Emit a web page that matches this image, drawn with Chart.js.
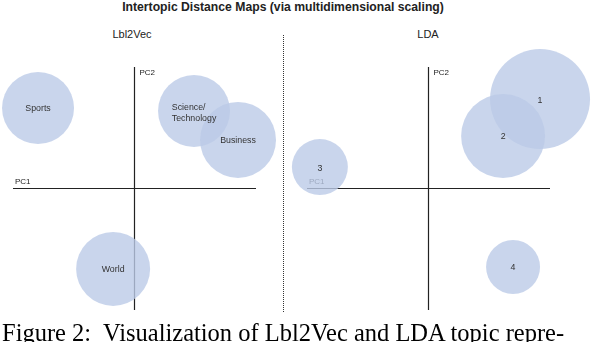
<!DOCTYPE html>
<html>
<head>
<meta charset="utf-8">
<script src="https://cdn.jsdelivr.net/npm/chart.js@4.4.0/dist/chart.umd.min.js"></script>
<style>
  html, body { margin: 0; padding: 0; background: #fff; }
  #wrap { position: relative; width: 594px; height: 342px; overflow: hidden; font-family: "Liberation Sans", Arial, sans-serif; }
  canvas { position: absolute; top: 0; }
  .lbl { position: absolute; transform: translateX(-50%); white-space: nowrap; color: #222; }
  #title { left: 283px; top: 0px; font-size: 12.2px; font-weight: bold; }
  #sub1 { left: 132px; top: 28px; font-size: 11px; }
  #sub2 { left: 428px; top: 28px; font-size: 11px; }
  #divider { position: absolute; left: 283px; top: 35px; height: 277px; border-left: 1px dotted #333; }
  #caption { position: absolute; left: 2px; top: 319px; font-family: "Liberation Serif", "Times New Roman", serif; font-size: 24.5px; white-space: nowrap; color: #000; }
</style>
</head>
<body>
<div id="wrap">
  <div id="title" class="lbl">Intertopic Distance Maps (via multidimensional scaling)</div>
  <div id="sub1" class="lbl">Lbl2Vec</div>
  <div id="sub2" class="lbl">LDA</div>
  <div id="divider"></div>
  <canvas id="left" width="283" height="342" style="left:0"></canvas>
  <canvas id="right" width="311" height="342" style="left:283px"></canvas>
  <div id="caption">Figure 2:&nbsp; Visualization of Lbl2Vec and LDA topic repre-</div>
</div>
<script>
// Lbl2Vec topics (PC1, PC2, bubble size)
const lblTopics = ["Sports", "Science/\nTechnology", "Business", "World"];
const lblPC1 = [-3.97, 2.45, 4.26, -0.88];
const lblPC2 = [3.31, 3.19, 2.0, -3.31];
const lblSize = [36, 36, 38, 37];

// LDA topics
const ldaTopics = ["1", "2", "3", "4"];
const ldaPC1 = [4.59, 3.07, -4.47, 3.48];
const ldaPC2 = [3.68, 2.16, 0.88, -3.23];
const ldaSize = [50, 42, 28, 27];

const bubbleColor = "rgba(187, 203, 231, 0.8)";

const mapPlugin = {
    id: "mapAxes",
    beforeDatasetsDraw(chart) {
        const { ctx, chartArea, scales } = chart;
        const x0 = scales.x.getPixelForValue(0);
        const y0 = scales.y.getPixelForValue(0);
        ctx.save();
        ctx.strokeStyle = "#222";
        ctx.lineWidth = 1.2;
        ctx.beginPath();
        ctx.moveTo(chartArea.left, y0);
        ctx.lineTo(chartArea.right, y0);
        ctx.moveTo(x0, chartArea.top);
        ctx.lineTo(x0, chartArea.bottom);
        ctx.stroke();
        ctx.fillStyle = "#222";
        ctx.font = "8px 'Liberation Sans', Arial, sans-serif";
        ctx.textBaseline = "middle";
        ctx.textAlign = "left";
        ctx.fillText("PC1", chartArea.left + 2, y0 - 7);
        ctx.fillText("PC2", x0 + 5, chartArea.top + 6);
        ctx.restore();
    },
    afterDatasetsDraw(chart) {
        const { ctx, scales } = chart;
        const labels = chart.data.labels;
        const pts = chart.data.datasets[0].data;
        ctx.save();
        ctx.fillStyle = "#333";
        ctx.font = "8.8px 'Liberation Sans', Arial, sans-serif";
        ctx.textBaseline = "middle";
        pts.forEach((p, i) => {
            const x = scales.x.getPixelForValue(p.x);
            const y = scales.y.getPixelForValue(p.y);
            const lines = labels[i].split("\n");
            if (lines.length > 1) {
                const w = Math.max(...lines.map(l => ctx.measureText(l).width));
                ctx.textAlign = "left";
                lines.forEach((l, j) => ctx.fillText(l, x - w / 2, y + 2 + (j - (lines.length - 1) / 2) * 11));
            } else {
                ctx.textAlign = "center";
                ctx.fillText(lines[0], x, y + 1);
            }
        });
        ctx.restore();
    }
};

function makeMap(id, labels, xs, ys, rs, padding) {
    new Chart(document.getElementById(id), {
        type: "bubble",
        data: {
            labels: labels,
            datasets: [{
                data: xs.map((x, i) => ({ x: x, y: ys[i], r: rs[i] })),
                backgroundColor: bubbleColor,
                borderWidth: 0,
                clip: false
            }]
        },
        options: {
            responsive: false,
            animation: false,
            layout: { padding: padding, autoPadding: false },
            plugins: { legend: { display: false }, tooltip: { enabled: false } },
            scales: {
                x: { type: "linear", min: -5, max: 5, display: false },
                y: { type: "linear", min: -5, max: 5, display: false }
            }
        },
        plugins: [mapPlugin]
    });
}

makeMap("left", lblTopics, lblPC1, lblPC2, lblSize, { left: 13, right: 27, top: 67, bottom: 32 });
makeMap("right", ldaTopics, ldaPC1, ldaPC2, ldaSize, { left: 24, right: 44, top: 67, bottom: 32 });
</script>
</body>
</html>
